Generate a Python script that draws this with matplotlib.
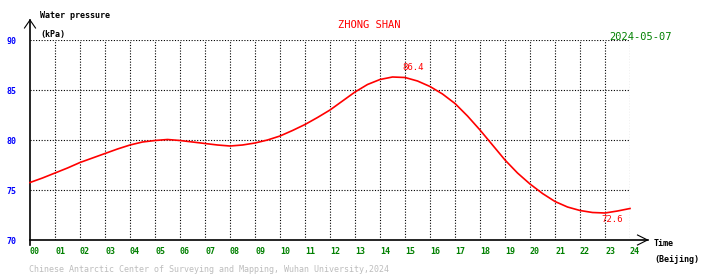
import matplotlib
matplotlib.use("Agg")
import matplotlib.pyplot as plt
import numpy as np

# half-hourly water pressure readings (kPa)
hours = np.arange(0, 24.5, 0.5)
pressure = [75.75, 76.2, 76.7, 77.2, 77.75, 78.2, 78.65, 79.1, 79.5, 79.8,
            79.95, 80.05, 79.95, 79.8, 79.65, 79.5, 79.4, 79.5, 79.7, 80.0,
            80.4, 80.95, 81.55, 82.25, 83.0, 83.9, 84.8, 85.55, 86.05, 86.3,
            86.25, 85.9, 85.35, 84.6, 83.65, 82.4, 81.0, 79.5, 78.0, 76.7,
            75.6, 74.65, 73.85, 73.3, 72.95, 72.75, 72.7, 72.9, 73.15]
x_ticks = list(range(25))
x_labels = ["%02d" % h for h in x_ticks]
y_ticks = [70, 75, 80, 85, 90]
max_val, max_time = 86.4, 14.9
min_val, min_time = 72.6, 22.9

W, H = 710, 278
fig = plt.figure(figsize=(W / 100, H / 100), dpi=100)
ax = fig.add_axes([30 / W, 38 / H, 600 / W, 200 / H])
ax.set_xlim(0, 24)
ax.set_ylim(70, 90)
for s in ax.spines.values():
    s.set_visible(False)

mono = "DejaVu Sans Mono"
green = "#008000"

# dotted grid
for h in range(1, 25):
    ax.plot([h, h], [70, 90], color="black", lw=0.8, ls=(0, (1, 1.5)))
for v in [75, 80, 85, 90]:
    ax.plot([0, 24], [v, v], color="black", lw=0.8, ls=(0, (1, 1.5)))

# axes with arrows
ax.plot([0, 0], [69.5, 92], color="black", lw=1.2, clip_on=False)
ax.plot([-0.22, 0, 0.22], [91.2, 92, 91.2], color="black", lw=0.8, clip_on=False)
ax.plot([0, 24.7], [70, 70], color="black", lw=1.2, clip_on=False)
ax.plot([24.3, 24.7, 24.3], [70.5, 70, 69.5], color="black", lw=0.8, clip_on=False)

ax.plot(hours, pressure, color="red", lw=1.2, clip_on=False)

ax.set_xticks(x_ticks, x_labels)
ax.set_yticks(y_ticks, [str(v) for v in y_ticks])
ax.tick_params(axis="x", length=0, pad=5, labelsize=6, labelcolor=green)
ax.tick_params(axis="y", length=0, pad=10, labelsize=6, labelcolor="blue")
for lab in ax.get_xticklabels():
    lab.set_ha("left")
    lab.set_fontfamily(mono)
    lab.set_fontweight("bold")
for lab in ax.get_yticklabels():
    lab.set_fontfamily(mono)
    lab.set_fontweight("bold")

ax.text(max_time, max_val + 0.35, "%.1f" % max_val, color="red", fontsize=6.5,
        family=mono, va="bottom", ha="left")
ax.text(min_time - 0.05, min_val - 0.5, "%.1f" % min_val, color="red", fontsize=6.5,
        family=mono, va="center", ha="left")


def ftext(x, y, s, **kw):
    fig.text(x / W, 1 - y / H, s, family=mono, **kw)


ftext(40, 16, "Water pressure", fontsize=6, va="center", ha="left", weight="bold")
ftext(40, 34, "(kPa)", fontsize=6, va="center", ha="left", weight="bold")
ftext(369, 25, "ZHONG SHAN", fontsize=7.5, color="red", va="center", ha="center")
ftext(641, 37, "2024-05-07", fontsize=7.5, color=green, va="center", ha="center")
ftext(654, 244, "Time", fontsize=6, va="center", ha="left", weight="bold")
ftext(654, 260, "(Beijing)", fontsize=6, va="center", ha="left", weight="bold")
ftext(29, 270, "Chinese Antarctic Center of Surveying and Mapping, Wuhan University,2024",
      fontsize=6.0, color="#bdbdbd", va="center", ha="left")

fig.savefig("out.png", dpi=100, facecolor="white")
